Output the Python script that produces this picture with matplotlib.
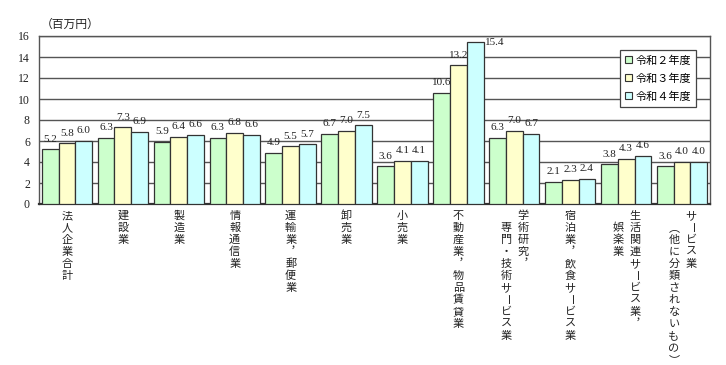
import numpy as np
import matplotlib.pyplot as plt
from matplotlib.patches import Patch

# data (million yen)
categories = [
    ["法人企業合計"],
    ["建設業"],
    ["製造業"],
    ["情報通信業"],
    ["運輸業︐郵便業"],
    ["卸売業"],
    ["小売業"],
    ["不動産業︐物品賃貸業"],
    ["学術研究︐", "専門・技術サービス業"],
    ["宿泊業︐飲食サービス業"],
    ["生活関連サービス業︐", "娯楽業"],
    ["サービス業", "︵他に分類されないもの︶"],
]
r2 = [5.2, 6.3, 5.9, 6.3, 4.9, 6.7, 3.6, 10.6, 6.3, 2.1, 3.8, 3.6]
r3 = [5.8, 7.3, 6.4, 6.8, 5.5, 7.0, 4.1, 13.2, 7.0, 2.3, 4.3, 4.0]
r4 = [6.0, 6.9, 6.6, 6.6, 5.7, 7.5, 4.1, 15.4, 6.7, 2.4, 4.6, 4.0]
series_names = ["令和２年度", "令和３年度", "令和４年度"]
colors = ["#ccffcc", "#ffffcc", "#ccffff"]

jp = ["Noto Sans CJK JP", "DejaVu Sans"]
num = ["Liberation Serif", "DejaVu Serif"]

fig = plt.figure(figsize=(7.26, 3.65), dpi=100)
ax = fig.add_axes([39 / 726, 1 - 204 / 365, 671 / 726, 168 / 365])

x = np.arange(len(r2))
w = 0.3
frame_col = "#555555"

for k, vals in enumerate([r2, r3, r4]):
    pos = x + (k - 1) * w
    ax.bar(pos, vals, width=w, color=colors[k], edgecolor="#333333",
           linewidth=0.9, zorder=3)
    for p, v in zip(pos, vals):
        if v > 15:
            ax.annotate(f"{v:.1f}", xy=(p + w / 2, v), xytext=(1, 0),
                        textcoords="offset points", ha="left", va="center",
                        fontsize=8, family=num, color="#222222")
        else:
            ax.annotate(f"{v:.1f}", xy=(p, v), xytext=(0, 4),
                        textcoords="offset points", ha="center", va="bottom",
                        fontsize=8, family=num, color="#222222")

ax.set_xlim(-0.5, len(r2) - 0.5)
ax.set_ylim(0, 16)
ax.set_yticks(range(0, 17, 2))
ax.set_xticks([])
ax.tick_params(axis="y", length=0, pad=6.5, labelsize=8.5, colors="#222222")
for lab in ax.get_yticklabels():
    lab.set_family(num)
ax.grid(axis="y", color="#555555", linewidth=1.0, zorder=0)
for s in ax.spines.values():
    s.set_color(frame_col)
    s.set_linewidth(1.0)
ax.spines["bottom"].set_linewidth(1.6)
ax.spines["bottom"].set_color("#333333")

ax.text(41 / 726, 1 - 24 / 365, "（百万円）", transform=fig.transFigure,
        ha="left", va="center", fontsize=8.5, family=jp, color="#222222")

# vertical category labels, one character at a time
px = 0.72  # points per pixel
pitch = 12
for i, cols in enumerate(categories):
    if len(cols) == 1:
        offs = [0]
    else:
        offs = [9, -8]
    for c, text in enumerate(cols):
        start = 0 if c == 0 else 1
        for j, ch in enumerate(text):
            rot = -90 if ch == "ー" else 0
            ax.annotate(ch, xy=(i, 0), xycoords=("data", "axes fraction"),
                        xytext=(offs[c] * px, (-12 - (start + j) * pitch) * px),
                        textcoords="offset points", ha="center", va="center",
                        rotation=rot, rotation_mode="anchor", fontsize=8,
                        family=jp, color="#222222", annotation_clip=False)

handles = [Patch(facecolor=c, edgecolor="#333333", linewidth=0.8) for c in colors]
leg = ax.legend(handles, series_names, loc="upper right",
                bbox_to_anchor=(0.988, 0.952), prop={"family": jp, "size": 8},
                handlelength=0.6, handleheight=0.6, handletextpad=0.3,
                labelspacing=0.7, borderpad=0.5, fancybox=False,
                framealpha=1, edgecolor="#444444")
leg.get_frame().set_linewidth(0.9)
leg.set_zorder(5)

fig.savefig("out.png", dpi=100)
